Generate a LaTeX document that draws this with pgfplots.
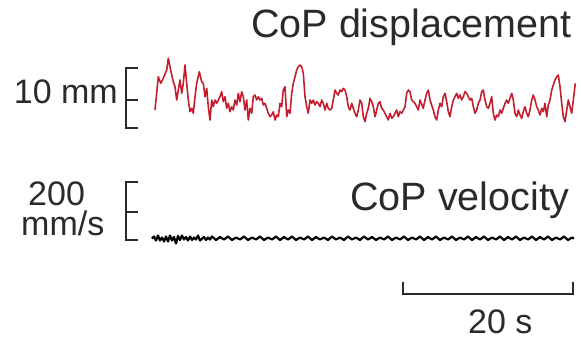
\documentclass[border=0pt]{standalone}
\usepackage{pgfplots}
\pgfplotsset{compat=1.18}
\usepackage{fontspec}
\setmainfont{Liberation Sans}
\definecolor{trace}{HTML}{C41E2E}
\definecolor{txt}{HTML}{2A2A2A}
\begin{document}
\begin{tikzpicture}
\useasboundingbox (0,0) rectangle (581bp,341bp);
\begin{axis}[at={(0,0)}, anchor=south west,
  width=581bp, height=341bp, scale only axis,
  xmin=0, xmax=581, ymin=0, ymax=341, y dir=reverse,
  axis lines=none, clip=false]
% CoP displacement (pixel units of the figure)
\addplot[trace, line width=1.6pt, line join=round] coordinates {
(155,110) (158.3,76.7) (160.7,83.3) (163.3,78.3) (166.7,70) (168.3,58.3) (170,66.7) (171.7,75)
(173.3,81.7) (175,86.7) (176.7,100) (178.3,90) (180,80) (181.7,93.3) (183.3,83.3) (185,65)
(186.7,83.3) (188.3,100) (190,111.7) (191.7,108.3) (193.3,113.3) (195,96.7) (196.7,83.3) (199.3,71.7)
(201.7,81.7) (203.3,83.3) (205,96.7) (206.7,88.3) (208.3,106.7) (210,120) (211.7,100) (213.3,106.7)
(215,100) (216.7,103.3) (220,96.7) (221.7,91.7) (223.3,101.7) (225,96.7) (226.7,108.3) (228.3,103.3)
(230,111.7) (231.7,106.7) (233.3,110) (235,100) (236.7,105) (238.3,93.3) (240,101.7) (241.7,91.7)
(243.3,96.7) (245,110) (246.7,100) (248.3,120) (250,108.3) (251.7,113.3) (253.3,96.7) (255,95)
(256.7,100) (258.3,96.7) (260,100) (261.7,98.3) (263.3,105) (265,103.3) (266.7,108.3) (268.3,113.3)
(270,116.7) (271.7,115) (273.3,111.7) (275,120) (276.7,115) (278.3,116.7) (280,103.3)
(281.7,106.7) (283.3,90) (285,86.7) (286.7,116.7) (288.3,110) (290,113.3) (291.7,93.3) (293.3,83.3)
(295,76.7) (296.7,70) (298.3,66.7) (300,65) (301.7,66.7) (303.3,73.3) (305,96.7) (306.7,106.7)
(308.3,113.3) (310,100) (311.7,103.3) (313.3,100) (315,105) (316.7,101.7) (318.3,103.3) (320,106.7)
(321.7,100) (323.3,103.3) (325,110) (326.7,103.3) (328.3,108.3) (330,110) (331.7,108.3) (333.3,100)
(335,90) (336.7,93.3) (338.3,95) (340,90) (341.7,91.7) (343.3,88.3) (345,90) (346.7,96.7)
(348.3,106.7) (350,110) (351.7,103.3) (353.3,108.3) (355,113.3) (356.7,116.7) (358.3,110) (360,100)
(361.7,103.3) (363.3,116.7) (365,121.7) (366.7,113.3) (368.3,108.3) (370,98.3) (371.7,101.7) (373.3,106.7)
(375,116.7) (376.7,110) (378.3,103.3) (380,101.7) (381.7,108.3) (383.3,110) (385,113.3) (386.7,116.7)
(388.3,120) (390,113.3) (391.7,118.3) (393.3,116.7) (395,113.3) (396.7,110) (398.3,116.7) (400,111.7)
(401.7,113.3) (403.3,110) (405,106.7) (406.7,93.3) (408.3,90) (410,91.7) (411.7,100) (413.3,101.7)
(415,103.3) (416.7,106.7) (418.3,110) (420,100)
(423.3,108.3) (425,100) (426.7,93.3) (428.3,90) (430,100) (433.3,110) (435,116.7) (436.7,120)
(438.3,110) (440,103.3) (441.7,106.7) (443.3,96.7) (445,93.3) (446.7,101.7) (448.3,111.7) (450,116.7)
(451.7,106.7) (453.3,100) (455,96.7) (456.7,93.3) (458.3,98.3) (460,95) (461.7,100) (463.3,96.7)
(465,91.7) (466.7,93.3) (468.3,96.7) (470,100) (471.7,98.3) (473.3,106.7) (475,113.3) (476.7,110)
(478.3,103.3) (480,100) (481.7,91.7) (483.3,90) (485,100) (486.7,106.7) (488.3,108.3) (490,103.3)
(491.7,96.7) (493.3,113.3) (495,120) (496.7,115) (498.3,116.7) (500,110) (501.7,113.3) (503.3,108.3)
(505,103.3) (506.7,100) (508.3,103.3) (510,98.3) (511.7,93.3) (513.3,100) (515,113.3) (516.7,116.7)
(518.3,110) (520,115) (521.7,118.3) (523.3,111.7) (525,106.7) (526.7,113.3) (528.3,116.7) (530,110)
(531.7,100) (533.3,95) (535,100) (536.7,106.7) (538.3,110) (540,115) (541.7,108.3) (543.3,111.7)
(545,103.3) (546.7,116.7) (548.3,105) (550,100) (551.7,90) (553.3,85) (555,80) (556.7,76.7)
(558.3,75) (560,86.7) (561.7,103.3) (563.3,116.7) (565,121.7) (566.7,110) (568.3,100) (570,106.7)
(571.7,113.3) (573.3,100) (575.3,83.3)
};
% CoP velocity
\addplot[black, line width=2.2pt, line join=round] coordinates {
(152,238.5) (154,236.5) (156,240.5) (158,235.5) (160,240.5) (162,237.5) (164,241.5) (166,236.5)
(168,241.5) (170,235.5) (172,240.5) (174,237) (176,243.5) (178,236) (180,240) (182,235.5)
(184,239.5) (186,237) (188,240.5) (190,236.5) (192,240) (194,237.5) (196,239.5) (198,235.5)
(200,240.5) (204,237) (206,240) (208,237.5) (210,239.5) (212,236.5) (216,240) (220,237)
(224,239.5) (228,236.5) (232,240) (236,237.5) (240,239.5) (244,236.5) (248,240) (252,237.5)
(256,239.5) (260,236.5) (264,240) (268,237.5) (272,239.5) (276,236.5) (280,240) (284,237)
(288,239.5) (292,236.5) (296,240) (300,237.5) (304,239.5) (308,236.5) (312,240) (316,237)
(320,239.5) (324,237.5) (328,240) (332,236.5) (336,239.5) (340,237.5) (344,240) (348,236.5)
(352,239.5) (356,237.5) (360,240) (364,236.5) (368,239.5) (372,237) (376,240) (380,237.5)
(384,239.5) (388,236.5) (392,240) (396,237.5) (400,239.5) (404,236.5) (408,240) (412,237.5)
(416,239.5) (420,236.5) (424,240) (428,237) (432,239.5) (436,236.5) (440,240) (444,237.5)
(448,239.5) (452,236.5) (456,240) (460,237.5) (464,239.5) (468,236.5) (472,240) (476,237)
(480,239.5) (484,236.5) (488,240) (492,237.5) (496,239.5) (500,236.5) (504,240) (508,237)
(512,239.5) (516,236.5) (520,240) (524,237.5) (528,239.5) (532,236.5) (536,240) (540,237)
(544,239.5) (548,236.5) (552,240) (556,237.5) (560,239.5) (564,236.5) (568,240) (572,237.5)
(574,238.5)
};
% scale bars
\addplot[txt, line width=1.5pt] coordinates {(138,68) (126,68) (126,128) (138,128)};
\addplot[txt, line width=1.5pt] coordinates {(126,100) (138,100)};
\addplot[txt, line width=1.5pt] coordinates {(138,182) (126,182) (126,240) (138,240)};
\addplot[txt, line width=1.5pt] coordinates {(126,212) (138,212)};
\addplot[txt, line width=1.5pt] coordinates {(403,282) (403,294) (573,294) (573,282)};
% labels
\node[anchor=base east, inner sep=0pt, text=txt, font=\fontsize{39.5bp}{44bp}\selectfont] at (axis cs:572,37) {CoP displacement};
\node[anchor=base east, inner sep=0pt, text=txt, font=\fontsize{39.5bp}{44bp}\selectfont] at (axis cs:570,210) {CoP velocity};
\node[anchor=base east, inner sep=0pt, text=txt, font=\fontsize{34bp}{38bp}\selectfont] at (axis cs:118,103) {10 mm};
\node[anchor=base west, inner sep=0pt, text=txt, align=left, font=\fontsize{34bp}{30bp}\selectfont] at (axis cs:21,235) {\hspace*{7bp}200\\mm/s};
\node[anchor=base west, inner sep=0pt, text=txt, font=\fontsize{34bp}{38bp}\selectfont] at (axis cs:468,333) {20 s};
\end{axis}
\end{tikzpicture}
\end{document}
